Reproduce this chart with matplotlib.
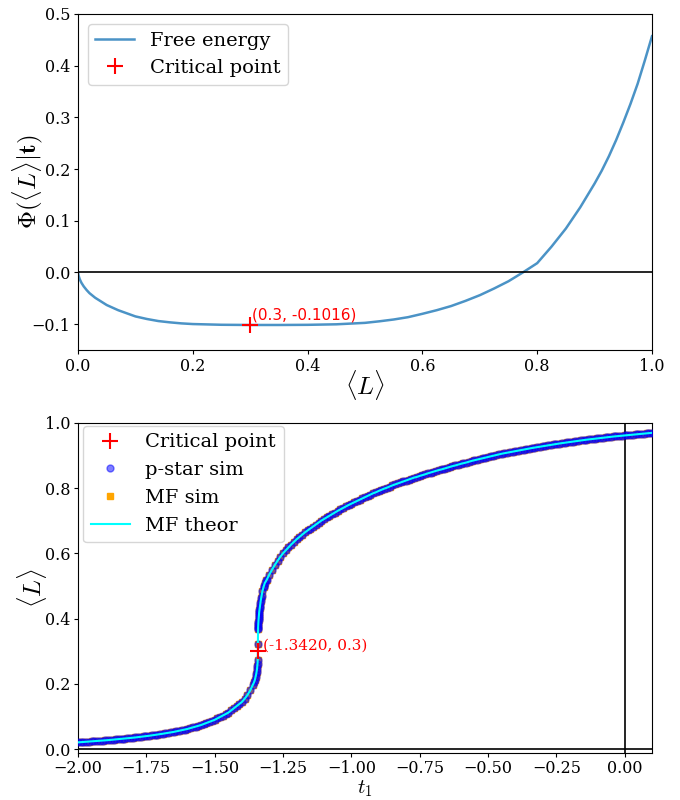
import matplotlib
matplotlib.use('Agg')
import matplotlib.pyplot as plt
import numpy as np

plt.rcParams['font.family'] = 'serif'
plt.rcParams['font.serif'] = ['DejaVu Serif']
plt.rcParams['mathtext.fontset'] = 'cm'

# --- painel de cima: energia livre ---
L_fe = [0.0, 0.001, 0.003, 0.006, 0.01, 0.015, 0.02, 0.03, 0.04, 0.05, 0.06, 0.07, 0.08,
        0.10, 0.12, 0.14, 0.16, 0.18, 0.20, 0.25, 0.30, 0.35, 0.40, 0.45, 0.50, 0.525,
        0.55, 0.575, 0.60, 0.625, 0.65, 0.675, 0.70, 0.725, 0.75, 0.775, 0.80, 0.825,
        0.85, 0.875, 0.90, 0.9125, 0.925, 0.9375, 0.95, 0.9625, 0.975, 0.9875, 1.0]
phi_fe = [0.0, -0.006, -0.013, -0.020, -0.027, -0.034, -0.040, -0.049, -0.056, -0.063,
          -0.068, -0.073, -0.077, -0.085, -0.090, -0.094, -0.0965, -0.0985, -0.0998,
          -0.1012, -0.1016, -0.1016, -0.1013, -0.1003, -0.0975, -0.0945, -0.091, -0.0865,
          -0.080, -0.073, -0.065, -0.055, -0.044, -0.031, -0.017, 0.000, 0.018, 0.050,
          0.085, 0.126, 0.172, 0.197, 0.225, 0.256, 0.290, 0.326, 0.365, 0.410, 0.457]
L_crit = 0.3
phi_crit = -0.1016

# --- painel de baixo: <L> vs t1 ---
t1_crit = -1.3420
t1_grid = np.round(np.arange(-2.0, 0.105, 0.01), 2)  # grade de t1 usada nas simulacoes
L_grid = [
    .0210, .0216, .0222, .0228, .0234, .0240,
    .0246, .0252, .0258, .0264, .0270,
    .0278, .0286, .0294, .0302, .0310,
    .0318, .0326, .0334, .0342, .0350,
    .0360, .0370, .0380, .0390, .0400,
    .0412, .0424, .0436, .0448, .0460,
    .0474, .0488, .0502, .0516, .0530,
    .0548, .0566, .0584, .0602, .0620,
    .0644, .0668, .0692, .0716, .0740,
    .0772, .0804, .0836, .0868, .0900,
    .0944, .0988, .1032, .1076, .1120,
    .1186, .1252, .1318, .1384, .1450,
    .155, .166, .180, .198, .222,
    .390, .462, .500, .518, .535, .550, .564, .577, .589, .600,
    .609, .618, .627, .635, .643,
    .650, .657, .664, .670, .676,
    .682, .688, .694, .700, .705,
    .710, .715, .720, .725, .730,
    .7345, .739, .7435, .748, .752,
    .756, .760, .764, .768, .772,
    .776, .780, .784, .787, .791,
    .7945, .798, .801, .8045, .808,
    .811, .814, .817, .820, .823,
    .826, .829, .832, .834, .837,
    .8395, .842, .845, .8475, .850,
    .8525, .855, .857, .8595, .862,
    .8645, .867, .869, .8715, .874,
    .876, .878, .8805, .883, .885,
    .887, .889, .891, .893, .895,
    .897, .899, .901, .903, .905,
    .9066, .9082, .9098, .9114, .913,
    .9146, .9162, .9178, .9194, .921,
    .9224, .9238, .9252, .9266, .928,
    .9294, .9308, .9322, .9336, .935,
    .9362, .9374, .9386, .9398, .941,
    .9422, .9434, .9446, .9458, .947,
    .948, .949, .950, .951, .952,
    .953, .954, .955, .956, .957,
    .9578, .9586, .9594, .9602, .961,
    .9618, .9626, .9634, .9642, .965,
    .9658, .9666, .9674, .9682, .969,
]
# pontos extras perto do ponto critico (parte quase vertical)
t1_steep = [-1.3560, -1.3530, -1.3480, -1.3465, -1.3450, -1.3440, -1.3432, -1.3425,
            -1.3419, -1.3413, -1.3411, -1.3408, -1.3404, -1.3395, -1.3390, -1.3384,
            -1.3378, -1.3371, -1.3362, -1.3352, -1.3340, -1.3328, -1.3315, -1.3285,
            -1.3250, -1.3210, -1.3165, -1.3110]
L_steep = [0.205, 0.212, 0.230, 0.238, 0.246, 0.254, 0.262, 0.272,
           0.322, 0.367, 0.372, 0.378, 0.384, 0.396, 0.402, 0.408,
           0.414, 0.420, 0.426, 0.433, 0.440, 0.447, 0.455, 0.470,
           0.485, 0.497, 0.509, 0.517]

t1_all = np.concatenate([t1_grid, t1_steep])
L_all = np.concatenate([L_grid, L_steep])
ordem = np.argsort(t1_all)
t1_all = t1_all[ordem]
L_all = L_all[ordem]

fig = plt.figure(figsize=(6.8, 8), dpi=100)
ax1 = fig.add_axes([0.1147, 0.5625, 0.8441, 0.42])
ax2 = fig.add_axes([0.1147, 0.059, 0.8441, 0.4126])

# 1. Energia livre
ax1.plot(L_fe, phi_fe, color='#4b93c6', lw=1.8, label='Free energy')
ax1.plot([L_crit], [phi_crit], '+', color='red', ms=12, mew=1.5, label='Critical point', zorder=5)
ax1.axhline(0, color='black', lw=1.2)
ax1.annotate('(0.3, -0.1016)', (L_crit, phi_crit), xytext=(1, 4), textcoords='offset points',
             color='red', fontsize=11, family='DejaVu Sans')
ax1.set_xlim(0, 1)
ax1.set_ylim(-0.15, 0.5)
ax1.set_xlabel(r'$\langle L \rangle$', fontsize=18)
ax1.set_ylabel(r'$\Phi(\langle L \rangle|\mathbf{t})$', fontsize=18)
ax1.xaxis.set_label_coords(0.5, -0.054)
ax1.yaxis.set_label_coords(-0.058, 0.5)
ax1.tick_params(labelsize=11.5, length=3, pad=2.5)
ax1.legend(loc='upper left', fontsize=14)

# 2. <L> em funcao de t1
ax2.plot([t1_crit], [L_crit], '+', color='red', ms=12, mew=1.5, label='Critical point', zorder=6)
ax2.plot(t1_all, L_all, 'o', color='blue', alpha=0.5, ms=5, label='p-star sim', zorder=3)
ax2.plot(t1_all, L_all, 's', color='orange', ms=4, label='MF sim', zorder=2)
ax2.plot(t1_all, L_all, '-', color='cyan', lw=1.5, label='MF theor', zorder=4)
ax2.axhline(0, color='black', lw=1.2)
ax2.axvline(0, color='black', lw=1.2)
ax2.annotate('(-1.3420, 0.3)', (t1_crit, L_crit), xytext=(3.5, 1), textcoords='offset points',
             color='red', fontsize=11)
ax2.set_xlim(-2, 0.1)
ax2.set_ylim(-0.011, 1.0)
ax2.set_xticks(np.arange(-2.0, 0.01, 0.25))
ax2.set_xlabel(r'$t_1$', fontsize=15)
ax2.set_ylabel(r'$\langle L \rangle$', fontsize=18)
ax2.xaxis.set_label_coords(0.5, -0.079)
ax2.yaxis.set_label_coords(-0.05, 0.5)
ax2.tick_params(labelsize=11.5, length=3, pad=2.5)
ax2.legend(loc='upper left', fontsize=14, bbox_to_anchor=(0.009, 0.991), borderaxespad=0)

fig.savefig('out.png', dpi=100)
